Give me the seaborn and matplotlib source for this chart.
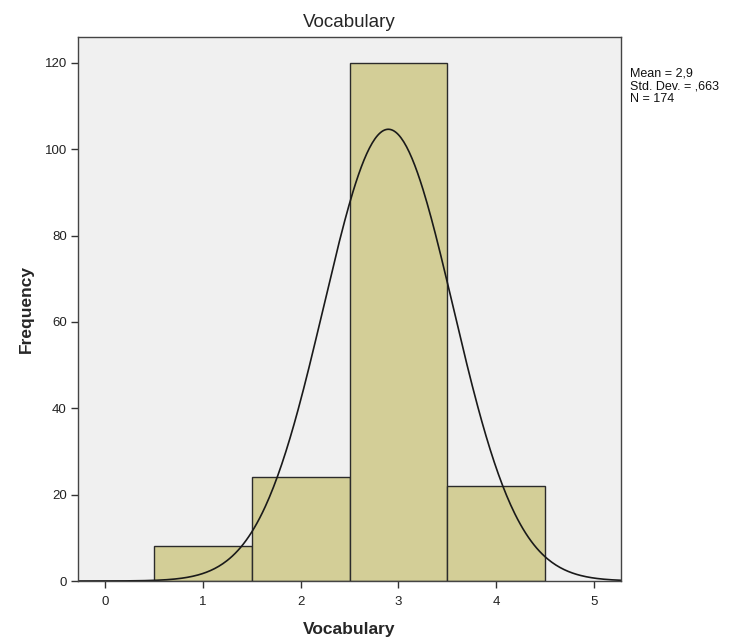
import numpy as np
import pandas as pd
import seaborn as sns
import matplotlib.pyplot as plt

# Histogram data (score, count)
scores = [1, 2, 3, 4]
counts = [8, 24, 120, 22]
bin_edges = [0.5, 1.5, 2.5, 3.5, 4.5]
x_ticks = [0, 1, 2, 3, 4, 5]
y_ticks = [0, 20, 40, 60, 80, 100, 120]

df = pd.DataFrame({'Vocabulary': scores, 'n': counts})

n = sum(counts)
mean = np.average(scores, weights=counts)
var = np.average((np.array(scores) - mean) ** 2, weights=counts) * n / (n - 1)
sd = np.sqrt(var)

sns.set_style('white')
plt.rcParams['font.family'] = ['Liberation Sans', 'DejaVu Sans']

fig = plt.figure(figsize=(7.36, 6.43), dpi=100)
ax = fig.add_axes([0.106, 0.0964, 0.738, 0.846])
ax.set_facecolor('#F0F0F0')

sns.histplot(data=df, x='Vocabulary', weights='n', bins=bin_edges,
             color='#D3CE97', alpha=1, edgecolor='#2b2b2b', linewidth=1.0, ax=ax)

# Normal curve
xs = np.linspace(-0.3, 5.3, 400)
ys = n * 1.0 * np.exp(-0.5 * ((xs - mean) / sd) ** 2) / (sd * np.sqrt(2 * np.pi))
ax.plot(xs, ys, color='#1a1a1a', linewidth=1.2)

ax.set_xlim(-0.28, 5.28)
ax.set_ylim(0, 126)
ax.set_xticks(x_ticks)
ax.set_yticks(y_ticks)
ax.tick_params(direction='out', length=5, width=1, color='#333333', labelsize=9.5,
               labelcolor='#222222', bottom=True, left=True, pad=3)
ax.tick_params(axis='x', pad=6)
for s in ax.spines.values():
    s.set_color('#444444')
    s.set_linewidth(1.0)

ax.set_xlabel('Vocabulary', fontsize=12.5, fontweight='bold', labelpad=10)
ax.set_ylabel('Frequency', fontsize=12.5, fontweight='bold', labelpad=8)
ax.set_title('Vocabulary', fontsize=13.5, pad=7)

fig.text(0.856, 0.895, 'Mean = 2,9\nStd. Dev. = ,663\nN = 174', fontsize=9,
         va='top', ha='left', linespacing=1.1, color='#111111')

plt.savefig('out.png', dpi=100)
